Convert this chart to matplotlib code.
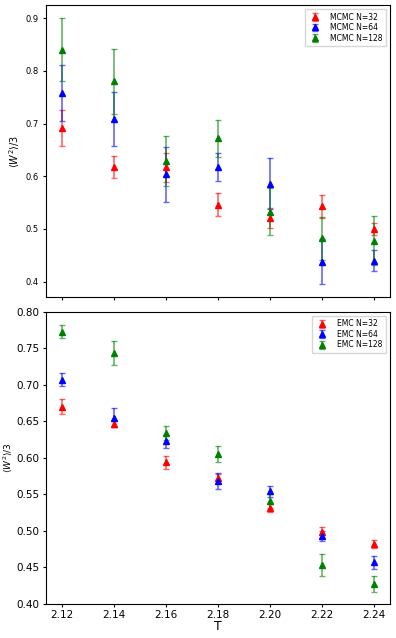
import matplotlib
matplotlib.use('Agg')
import matplotlib.pyplot as plt
from matplotlib.colors import to_rgba

T = [2.12, 2.14, 2.16, 2.18, 2.20, 2.22, 2.24]
sizes = [32, 64, 128]
colors = ['red', 'blue', 'green']

# MCMC <W^2>/3 and errors, per lattice size
mcmc_32 = [0.692, 0.617, 0.617, 0.546, 0.520, 0.543, 0.500]
mcmc_32_err = [0.034, 0.021, 0.027, 0.022, 0.019, 0.022, 0.012]
mcmc_64 = [0.758, 0.709, 0.604, 0.618, 0.586, 0.438, 0.440]
mcmc_64_err = [0.054, 0.051, 0.052, 0.027, 0.048, 0.042, 0.020]
mcmc_128 = [0.840, 0.780, 0.629, 0.672, 0.533, 0.482, 0.478]
mcmc_128_err = [0.060, 0.061, 0.048, 0.035, 0.045, 0.041, 0.047]

# EMC <W^2>/3 and errors
emc_32 = [0.670, 0.646, 0.594, 0.572, 0.532, 0.498, 0.482]
emc_32_err = [0.010, 0.004, 0.009, 0.006, 0.0055, 0.007, 0.005]
emc_64 = [0.707, 0.655, 0.623, 0.568, 0.554, 0.493, 0.457]
emc_64_err = [0.009, 0.013, 0.009, 0.011, 0.0075, 0.007, 0.009]
emc_128 = [0.773, 0.743, 0.634, 0.605, 0.541, 0.454, 0.428]
emc_128_err = [0.009, 0.0165, 0.009, 0.011, 0.010, 0.015, 0.011]

mcmc = [(mcmc_32, mcmc_32_err), (mcmc_64, mcmc_64_err), (mcmc_128, mcmc_128_err)]
emc = [(emc_32, emc_32_err), (emc_64, emc_64_err), (emc_128, emc_128_err)]

fig = plt.figure(figsize=(3.96, 6.38), dpi=100)
ax1 = fig.add_axes([0.116, 0.5345, 0.8687, 0.4577])
ax2 = fig.add_axes([0.116, 0.0533, 0.8687, 0.458], sharex=ax1)

ylabel = r'$\langle W^2 \rangle / 3$'

for ax, data, name in [(ax1, mcmc, 'MCMC'), (ax2, emc, 'EMC')]:
    for (vals, errs), n, c in zip(data, sizes, colors):
        ax.errorbar(T, vals, yerr=errs, fmt='^', color=c, ecolor=to_rgba(c, 0.6),
                    markersize=4, capsize=2.5, elinewidth=1.2, label=f'{name} N={n}')
    ax.legend(loc='upper right', fontsize=5.5, handletextpad=1.2, borderpad=0.5,
              labelspacing=0.2, handlelength=1.6)

ax1.tick_params(labelsize=6, labelbottom=False, length=2.5, pad=2.5)
ax1.set_ylabel(ylabel, fontsize=7, labelpad=3)
ax1.set_yticks([0.4, 0.5, 0.6, 0.7, 0.8, 0.9])

ax2.set_ylim(0.4, 0.8)
ax2.set_yticks([0.40, 0.45, 0.50, 0.55, 0.60, 0.65, 0.70, 0.75, 0.80])
ax2.yaxis.set_major_formatter(matplotlib.ticker.FormatStrFormatter('%.2f'))
ax2.xaxis.set_major_formatter(matplotlib.ticker.FormatStrFormatter('%.2f'))
ax2.set_xticks(T)
ax2.tick_params(labelsize=7.5, length=2.5, pad=2)
ax2.set_ylabel(ylabel, fontsize=6.5, labelpad=2)
ax2.set_xlabel('T', fontsize=9, labelpad=0)

fig.savefig('out.png', dpi=100)
